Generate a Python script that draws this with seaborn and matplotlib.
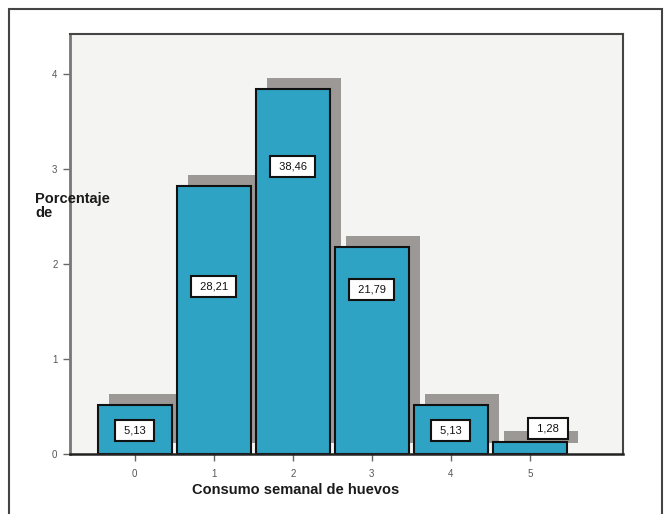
import matplotlib
matplotlib.use("Agg")
import matplotlib.pyplot as plt
import matplotlib.transforms as mtransforms
from matplotlib.patches import Rectangle
import seaborn as sns
import pandas as pd

# Weekly egg consumption (number of eggs) and percentage of respondents
categories = ["0", "1", "2", "3", "4", "5"]
percentages = [5.13, 28.21, 38.46, 21.79, 5.13, 1.28]
y_tick_labels = ["0", "1", "2", "3", "4"]

# Where each value box sits (x in category units, y in percent)
label_x = [0, 1, 2, 3, 4, 5.23]
label_y = [2.5, 17.6, 30.3, 17.3, 2.5, 2.7]

df = pd.DataFrame({"consumo": categories, "pct": percentages})

sns.set_theme(style="white")
plt.rcParams["font.family"] = ["Liberation Sans", "DejaVu Sans"]

fig = plt.figure(figsize=(6.65, 5.14), dpi=100)
fig.patch.set_facecolor("white")
ax = fig.add_axes([70 / 665, 60 / 514, 553 / 665, 420 / 514])
ax.set_facecolor("#f4f4f2")

bar_color = "#2fa3c4"
shadow_color = "#9c9896"

# drop shadow: same bars, shifted up and to the right
sns.barplot(data=df, x="consumo", y="pct", color=shadow_color, width=0.94,
            saturation=1, linewidth=0, ax=ax, zorder=1)
shadow_patches = list(ax.patches)
shift = mtransforms.ScaledTranslation(0.11, 0.11, fig.dpi_scale_trans)
for p in shadow_patches:
    p.set_transform(ax.transData + shift)
    p.set_facecolor(shadow_color)
    p.set_zorder(1)

sns.barplot(data=df, x="consumo", y="pct", color=bar_color, width=0.94,
            saturation=1, edgecolor="#111111", linewidth=1.5, ax=ax, zorder=2)
for p in ax.patches:
    if p not in shadow_patches:
        p.set_facecolor(bar_color)
        p.set_zorder(2)

# value boxes
for x, y, v in zip(label_x, label_y, percentages):
    ax.text(x, y, " " + f"{v:.2f}".replace(".", ",") + " ", ha="center",
            va="center", fontsize=8, color="#111111", zorder=5,
            bbox=dict(boxstyle="square,pad=0.5", facecolor="white",
                      edgecolor="#111111", linewidth=1.5))

ax.set_xlim(-0.82, 6.18)
ax.set_ylim(0, 44.2)
ax.set_yticks([0, 10, 20, 30, 40])
ax.set_yticklabels(y_tick_labels)
ax.set_xlabel("")
ax.set_ylabel("")

ax.tick_params(axis="both", which="both", direction="out", length=5, width=1,
               color="#666666", labelsize=7, labelcolor="#555555", pad=4,
               left=True, bottom=True)
ax.tick_params(axis="x", pad=6)

for side in ["left", "bottom", "top", "right"]:
    ax.spines[side].set_visible(True)
ax.spines["left"].set_color("#777777")
ax.spines["left"].set_linewidth(2)
ax.spines["bottom"].set_color("#222222")
ax.spines["bottom"].set_linewidth(1.8)
ax.spines["top"].set_color("#444444")
ax.spines["top"].set_linewidth(1.5)
ax.spines["right"].set_color("#444444")
ax.spines["right"].set_linewidth(1.5)

fig.text(35 / 665, 1 - 206 / 514, "Porcentaje\nde", ha="left", va="center",
         fontsize=10.5, fontweight="bold", color="#1a1a1a", linespacing=1.0,
         zorder=10)
fig.text(296 / 665, 1 - 490 / 514, "Consumo semanal de huevos", ha="center",
         va="center", fontsize=10.5, fontweight="bold", color="#1a1a1a")

# outer frame
fig.patches.append(Rectangle((9 / 665, -0.05), 653 / 665, 1.05 - 9 / 514,
                             transform=fig.transFigure, fill=False,
                             edgecolor="#444444", linewidth=1.5))

fig.savefig("out.png", dpi=100)
